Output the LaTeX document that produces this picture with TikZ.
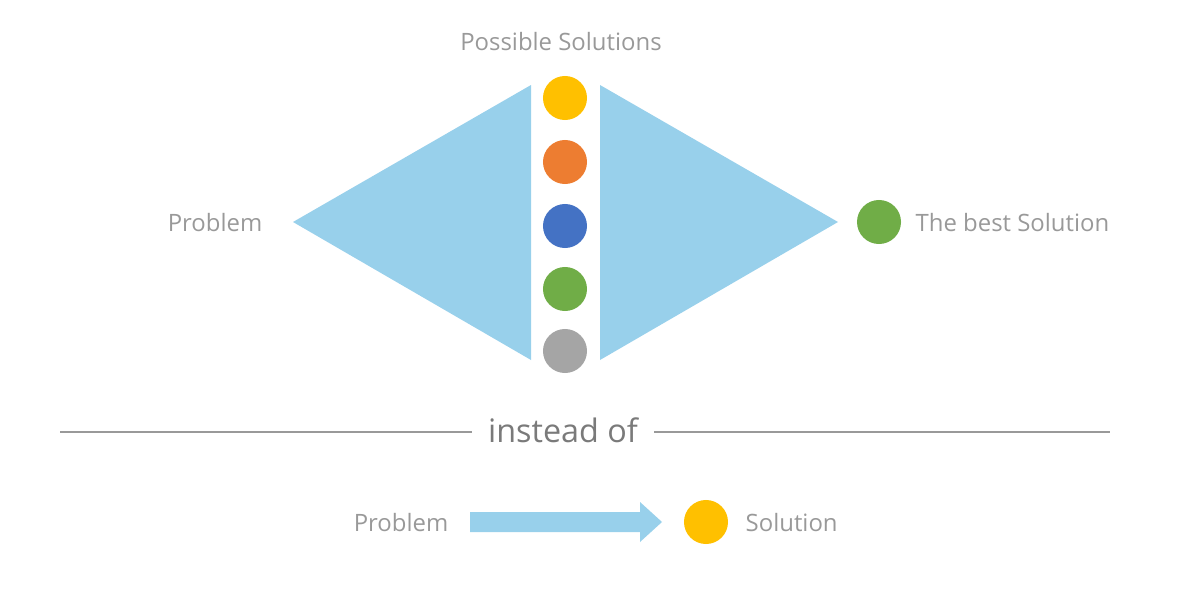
\documentclass[tikz,border=0pt]{standalone}
\usepackage{fontspec}
\setmainfont{Open Sans}
\definecolor{lb}{HTML}{98D0EB}
\definecolor{cy}{HTML}{FFC000}
\definecolor{co}{HTML}{ED7D31}
\definecolor{cb}{HTML}{4472C4}
\definecolor{cg}{HTML}{70AD47}
\definecolor{cgr}{HTML}{A5A5A5}
\definecolor{tx}{HTML}{999999}
\begin{document}
\begin{tikzpicture}[x=0.01cm,y=-0.01cm,
  lbl/.style={text=tx,font=\fontsize{6.8pt}{7.5pt}\selectfont,inner sep=0},
  dot/.style={circle,minimum size=0.44cm,inner sep=0}]
\useasboundingbox (0,0) rectangle (1200,600);
\fill[lb] (293,222) -- (531,85) -- (531,360) -- cycle;
\fill[lb] (600,85) -- (600,360) -- (838,222) -- cycle;
\node[dot,fill=cy] (s1) at (565,98) {};
\node[dot,fill=co] (s2) at (565,162) {};
\node[dot,fill=cb] (s3) at (565,226) {};
\node[dot,fill=cg] (s4) at (565,289) {};
\node[dot,fill=cgr] (s5) at (565,351) {};
\node[dot,fill=cg] (best) at (879,222) {};
\node[lbl] (ps) at (561,42) {Possible Solutions};
\node[lbl] (p1) at (215,223) {Problem};
\node[lbl,anchor=west] (bs) at (915,223) {The best Solution};
\node[text=tx!80!black,font=\fontsize{9.2pt}{10pt}\selectfont,inner sep=0] (io) at (563,430) {instead of};
\coordinate (l1) at (60,432); \coordinate (l2) at (472,432);
\coordinate (r1) at (654,432); \coordinate (r2) at (1110,432);
\draw[tx,line width=0.6pt] (l1) -- (l2);
\draw[tx,line width=0.6pt] (r1) -- (r2);
\node[lbl] (p2) at (401,523) {Problem};
\fill[lb] (470,512) -- (640,512) -- (640,502) -- (662,522) -- (640,542) -- (640,532) -- (470,532) -- cycle;
\node[dot,fill=cy] (sol) at (706,522) {};
\node[lbl,anchor=west] (st) at (745,523) {Solution};
\end{tikzpicture}
\end{document}
